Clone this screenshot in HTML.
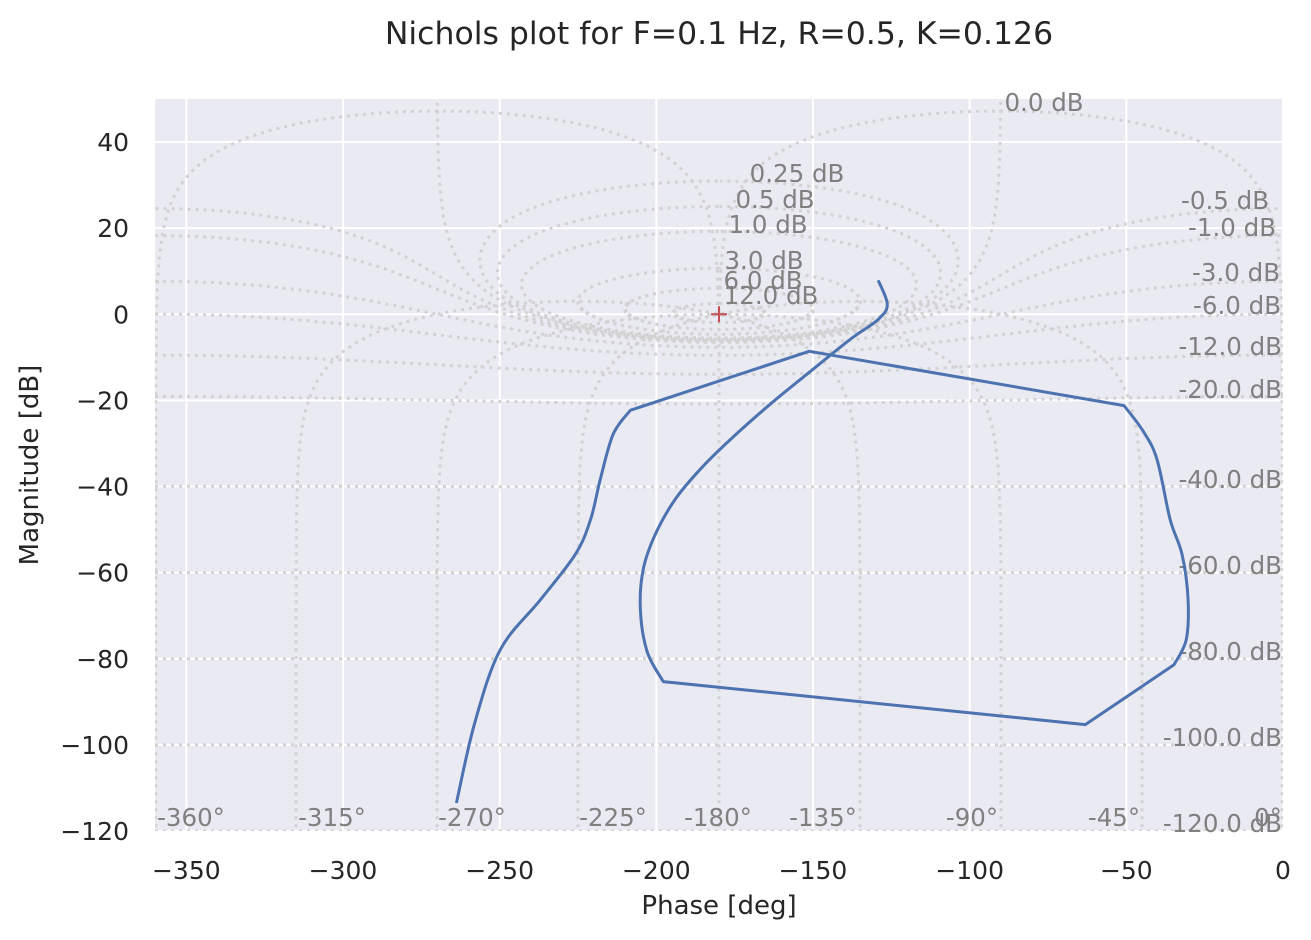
<!DOCTYPE html>
<html><head><meta charset="utf-8">
<style>
html,body{margin:0;padding:0;background:#fff;overflow:hidden;}
svg{display:block;font-family:"DejaVu Sans","Liberation Sans",sans-serif;}
</style></head>
<body>
<svg id="chart" width="1311" height="940" viewBox="0 0 1311 940" xmlns="http://www.w3.org/2000/svg">
<defs><clipPath id="clip"><rect x="155" y="99" width="1128" height="732"/></clipPath></defs>
<text x="719" y="44" text-anchor="middle" font-size="31.5" fill="#262626">Nichols plot for F=0.1 Hz, R=0.5, K=0.126</text>
<rect x="155" y="99" width="1128" height="732" fill="#eaeaf2"/>
<g id="grid"></g>
<g id="nichols" clip-path="url(#clip)"></g>
<g id="labels"></g>
<g id="series" clip-path="url(#clip)"></g>
<g id="axes"></g>
<text x="719" y="914" text-anchor="middle" font-size="26" fill="#262626">Phase [deg]</text>
<text transform="translate(38,465) rotate(-90)" text-anchor="middle" font-size="26" fill="#262626">Magnitude [dB]</text>
</svg>
<script>
const xTicks=[-350,-300,-250,-200,-150,-100,-50,0];
const yTicks=[-120,-100,-80,-60,-40,-20,0,20,40];
const clMags=[-120,-100,-80,-60,-40,-20,-12,-6,-3,-1,-0.5,0,0.25,0.5,1,3,6,12];
const clPhases=[-359.75,-315,-270,-225,-180,-135,-90,-45,-0.25];
const seriesPhase=[-263.8,-258,-249.8,-237,-225.9,-221,-217.9,-213.8,-208.3,-151.2,-50.7,-44.6,-40.2,-36,-32.2,-30.3,-30.9,-34.8,-63.1,-197.8,-202.9,-205.1,-204.2,-200.4,-194,-186,-176.4,-163.7,-150.9,-138.1,-129.2,-126.3,-129.2];
const seriesMag=[-113.5,-95,-77.9,-66.3,-55.8,-47.7,-38.4,-27.9,-22.3,-8.6,-21.2,-27.2,-33.7,-47.7,-55.8,-66.3,-75.6,-81.4,-95.3,-85.3,-78.4,-68.6,-59.3,-51.2,-43,-36,-29.1,-20.9,-13.3,-5.8,-1.2,2.3,7.9];
const cornerIdx=[8,9,10,17,18,19];
const mLabels=[["0.0 dB",1044,111,"middle"],["0.25 dB",797,182,"middle"],["0.5 dB",775,208,"middle"],["1.0 dB",768,233,"middle"],["3.0 dB",764,269,"middle"],["6.0 dB",763,289,"middle"],["12.0 dB",771,304,"middle"],["-0.5 dB",1269,209,"end"],["-1.0 dB",1276,236,"end"],["-3.0 dB",1280,281,"end"],["-6.0 dB",1281,314,"end"],["-12.0 dB",1282,355,"end"],["-20.0 dB",1282,398,"end"],["-40.0 dB",1282,488,"end"],["-60.0 dB",1282,574,"end"],["-80.0 dB",1282,660,"end"],["-100.0 dB",1282,746,"end"],["-120.0 dB",1282,832,"end"]];
const nLabels=[["-360°",191],["-315°",332],["-270°",472],["-225°",613],["-180°",718],["-135°",823],["-90°",972],["-45°",1114],["0°",1268]];

const NS="http://www.w3.org/2000/svg";
const X0=155,X1=1283,Y0=99,Y1=831;
function xs(p){return X0+(p+360)/360*(X1-X0);}
function ys(m){return Y1-(m+120)/170*(Y1-Y0);}
function mk(tag,attrs,parent){const e=document.createElementNS(NS,tag);for(const k in attrs)e.setAttribute(k,attrs[k]);parent.appendChild(e);return e;}

const grid=document.getElementById('grid');
xTicks.forEach(t=>{const l=mk('line',{x1:xs(t),x2:xs(t),y1:Y0,y2:Y1,stroke:'#fff','stroke-width':2},grid);

});
yTicks.forEach(t=>{const l=mk('line',{x1:X0,x2:X1,y1:ys(t),y2:ys(t),stroke:'#fff','stroke-width':2},grid);

});

const axes=document.getElementById('axes');
xTicks.forEach(t=>{const e=mk('text',{x:xs(t),y:879,'text-anchor':'middle','font-size':25,fill:'#262626'},axes);e.textContent=String(t).replace('-','\u2212');

});
yTicks.forEach(t=>{const e=mk('text',{x:129,y:ys(t)+9,'text-anchor':'end','font-size':25,fill:'#262626'},axes);e.textContent=String(t).replace('-','\u2212');

});

const ng=document.getElementById('nichols');
function olPoint(r,p){const pr=p*Math.PI/180;const tr=r*Math.cos(pr),ti=r*Math.sin(pr);const dr=1-tr,di=-ti;const d=dr*dr+di*di;
const lr=(tr*dr+ti*di)/d,li=(ti*dr-tr*di)/d;return [Math.atan2(li,lr)*180/Math.PI,10*Math.log10(lr*lr+li*li)];}
function drawCurve(pts,name){
  let out=[];let prev=null;
  pts.forEach(([ph,m])=>{if(!isFinite(m))return;if(prev!==null){while(ph-prev>180)ph-=360;while(ph-prev<-180)ph+=360;}prev=ph;out.push([ph,Math.max(-400,Math.min(400,m))]);});
  if(!out.length)return;
  let base=out[0][0];let k=0;while(base+k*360>0)k--;while(base+k*360<=-360)k++;
  for(const off of [-720,-360,0,360,720]){
    const d=out.map((q,i)=>(i?'L':'M')+xs(q[0]+k*360+off).toFixed(1)+' '+ys(q[1]).toFixed(1)).join('');
    const p=mk('path',{d:d,fill:'none',stroke:'#d2d2d2','stroke-width':3,'stroke-dasharray':'3 5'},ng);
    
    
  }
}
clMags.forEach(m=>{const r=Math.pow(10,m/20);const pts=[];for(let i=0;i<=3000;i++){const p=-359.99+i*(359.98/3000);pts.push(olPoint(r,p));}drawCurve(pts,'m-contour');});
clPhases.forEach(p=>{const pts=[];
  for(let i=0;i<=3000;i++){const u=-1+2*i/3000;const db=(u<0?-1:1)*Math.pow(Math.abs(u),2)*160;pts.push(olPoint(Math.pow(10,db/20),p));}
  drawCurve(pts,'n-contour');});

const lab=document.getElementById('labels');
mLabels.forEach(([t,x,y,a])=>{const e=mk('text',{x:x,y:y,'text-anchor':a,'font-size':24.5,fill:'#808080'},lab);e.textContent=t;

});
nLabels.forEach(([t,x])=>{const e=mk('text',{x:x,y:826,'text-anchor':'middle','font-size':24.5,fill:'#808080'},lab);e.textContent=t;

});

const ser=document.getElementById('series');
const P=seriesPhase.map((p,i)=>[xs(p),ys(seriesMag[i])]);
let d='M'+P[0][0].toFixed(1)+' '+P[0][1].toFixed(1);
for(let i=0;i<P.length-1;i++){
  const a=P[i],b=P[i+1];
  const straight=cornerIdx.includes(i)&&cornerIdx.includes(i+1);
  if(straight){d+='L'+b[0].toFixed(1)+' '+b[1].toFixed(1);continue;}
  const p0=(i>0&&!cornerIdx.includes(i))?P[i-1]:a;
  const p3=(i+2<P.length&&!cornerIdx.includes(i+1))?P[i+2]:b;
  const c1=[a[0]+(b[0]-p0[0])/6,a[1]+(b[1]-p0[1])/6];
  const c2=[b[0]-(p3[0]-a[0])/6,b[1]-(p3[1]-a[1])/6];
  d+='C'+c1[0].toFixed(1)+' '+c1[1].toFixed(1)+' '+c2[0].toFixed(1)+' '+c2[1].toFixed(1)+' '+b[0].toFixed(1)+' '+b[1].toFixed(1);
}
const line=mk('path',{d:d,fill:'none',stroke:'#4c72b0','stroke-width':3,'stroke-linejoin':'round'},ser);


const cp=mk('path',{d:`M${xs(-180)-8} ${ys(0)}H${xs(-180)+8}M${xs(-180)} ${ys(0)-8}V${ys(0)+8}`,stroke:'#c44e52','stroke-width':2},ser);


</script>
</body></html>
